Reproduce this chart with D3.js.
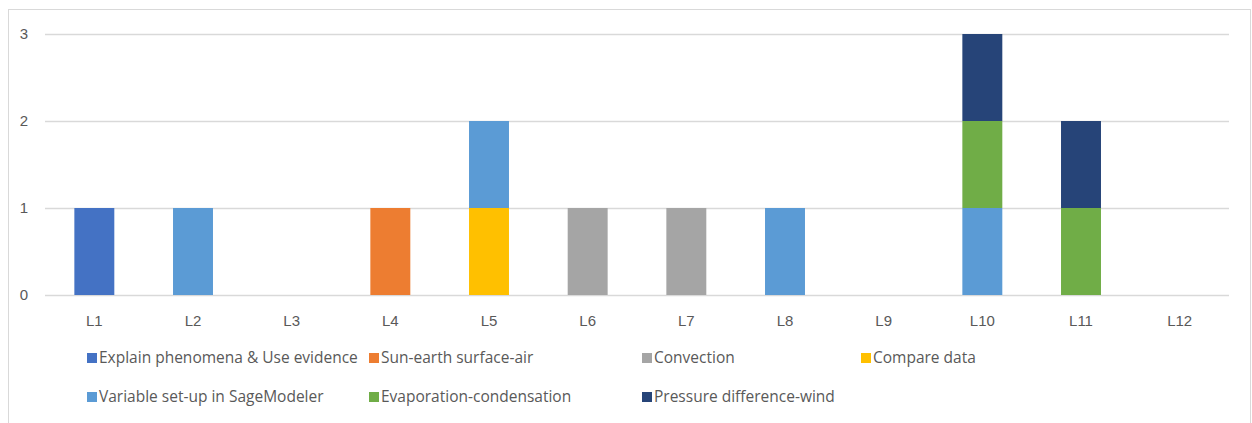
<!DOCTYPE html>
<html><head><meta charset="utf-8">
<script src="https://cdn.jsdelivr.net/npm/d3@7"></script>
<style>body{margin:0;background:#fff;} svg{display:block;font-family:"Open Sans",sans-serif;}</style>
</head><body>
<svg id="c" width="1252" height="423"></svg>
<script>
const categories = ["L1","L2","L3","L4","L5","L6","L7","L8","L9","L10","L11","L12"];
const seriesNames = ["Explain phenomena & Use evidence","Sun-earth surface-air","Convection","Compare data","Variable set-up in SageModeler","Evaporation-condensation","Pressure difference-wind"];
const explainVals     = [1,0,0,0,0,0,0,0,0,0,0,0];
const sunEarthVals    = [0,0,0,1,0,0,0,0,0,0,0,0];
const convectionVals  = [0,0,0,0,0,1,1,0,0,0,0,0];
const compareVals     = [0,0,0,0,1,0,0,0,0,0,0,0];
const variableVals    = [0,1,0,0,1,0,0,1,0,1,0,0];
const evaporationVals = [0,0,0,0,0,0,0,0,0,1,1,0];
const pressureVals    = [0,0,0,0,0,0,0,0,0,1,1,0];
const yTicks = [0,1,2,3];
const colors = ["#4472C4","#ED7D31","#A5A5A5","#FFC000","#5B9BD5","#70AD47","#264478"];

const allVals = [explainVals,sunEarthVals,convectionVals,compareVals,variableVals,evaporationVals,pressureVals];
const rows = categories.map((c,i)=>{const r={cat:c}; seriesNames.forEach((s,j)=>r[s]=allVals[j][i]); return r;});
const stacked = d3.stack().keys(seriesNames)(rows);

const svg = d3.select("#c");
svg.append("rect").attr("x",8.5).attr("y",9.5).attr("width",1242).attr("height",440)
  .attr("fill","none").attr("stroke","#d9d9d9");

const x = d3.scaleBand().domain(categories).range([45,1229]).paddingInner(0.595).paddingOuter(0.2975);
const y = d3.scaleLinear().domain([0,3]).range([295,34]);

const yAxis = svg.append("g").attr("transform","translate(45,0)")
  .call(d3.axisLeft(y).tickValues(yTicks).tickFormat(d3.format("d")).tickSize(-1184).tickPadding(17));
yAxis.select(".domain").remove();
yAxis.selectAll("line").attr("stroke","#d9d9d9").attr("stroke-width",1.3);
yAxis.selectAll("text").attr("fill","#595959").attr("font-size",15);

const layers = svg.append("g").selectAll("g").data(stacked).join("g").attr("fill",(d,i)=>colors[i]);
layers.selectAll("rect").data(d=>d.filter(p=>p[1]-p[0]>0)).join("rect")
  .attr("x",d=>x(d.data.cat)).attr("width",x.bandwidth())
  .attr("y",d=>y(d[1])).attr("height",d=>y(d[0])-y(d[1]));

const xAxis = svg.append("g").attr("transform","translate(0,295)")
  .call(d3.axisBottom(x).tickSize(0).tickPadding(20));
xAxis.select(".domain").remove();
xAxis.selectAll("text").attr("fill","#595959").attr("font-size",15);

const legendPos = [[87,358],[369,358],[642,358],[861,358],[87,397],[369,397],[642,397]];
const lg = svg.append("g").selectAll("g").data(seriesNames).join("g")
  .attr("transform",(d,i)=>`translate(${legendPos[i][0]},${legendPos[i][1]})`);
lg.append("rect").attr("x",0).attr("y",-5).attr("width",10).attr("height",10).attr("fill",(d,i)=>colors[i]);
lg.append("text").attr("x",12).attr("y",0).attr("dy","0.35em").attr("fill","#595959").attr("font-size",15.5).text(d=>d);
</script>
</body></html>
